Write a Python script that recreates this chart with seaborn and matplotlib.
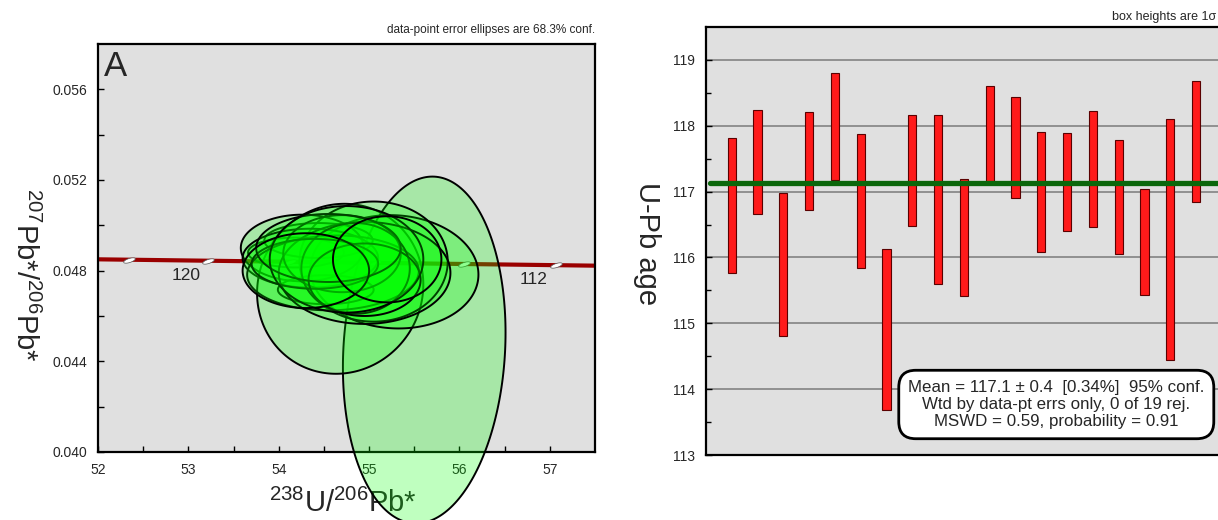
import numpy as np
import matplotlib
matplotlib.use("Agg")
import matplotlib.pyplot as plt
from matplotlib.path import Path
from matplotlib.markers import MarkerStyle
import seaborn as sns

# ---- panel A: Tera-Wasserburg data (238U/206Pb, 207Pb/206Pb, 1 sigma x, 1 sigma y, rho)
ell_x = [55.61, 54.68, 55.28, 55.05, 54.19, 54.52, 54.44, 54.26, 54.35, 54.60,
         54.95, 54.70, 54.85, 54.40, 54.95, 54.55, 54.75, 54.30, 55.20]
ell_y = [0.04450, 0.04720, 0.04795, 0.04840, 0.04880, 0.04716, 0.04933, 0.04900, 0.04855, 0.04790,
         0.04790, 0.04875, 0.04810, 0.04830, 0.04760, 0.04900, 0.04850, 0.04800, 0.04850]
ell_sx = [0.90, 0.92, 0.93, 0.82, 0.53, 0.53, 0.60, 0.68, 0.75, 0.95,
          0.95, 0.65, 0.60, 0.70, 0.62, 0.80, 0.85, 0.70, 0.60]
ell_sy = [0.00765, 0.00375, 0.00250, 0.00265, 0.00066, 0.00064, 0.00077, 0.00147, 0.00130, 0.00165,
          0.00225, 0.00170, 0.00200, 0.00110, 0.00160, 0.00150, 0.00235, 0.00165, 0.00190]
ell_rho = [0.10, 0.05, -0.05, 0.0, 0.0, 0.0, 0.0, 0.0, 0.0, 0.05,
           0.0, 0.0, 0.0, 0.0, 0.0, 0.0, 0.0, 0.0, 0.0]

concordia_x = [52.0, 57.5]
concordia_y = [0.04850, 0.04822]
age_marks = [122, 120, 118, 116, 114, 112]
age_mark_x = [52.34, 53.22, 54.12, 55.07, 56.05, 57.07]
age_mark_y = [0.04848, 0.04844, 0.04839, 0.04834, 0.04829, 0.04824]
age_labels = {120: (52.97, 0.04778), 112: (56.82, 0.04760)}

xticks_a = [52, 53, 54, 55, 56, 57]
yticks_a = [0.040, 0.044, 0.048, 0.052, 0.056]

# ---- panel B: weighted mean plot (box top / bottom, Ma)
box_top = [117.81, 118.24, 116.98, 118.21, 118.80, 117.87, 116.13, 118.16, 118.17, 117.19,
           118.61, 118.44, 117.91, 117.89, 118.22, 117.79, 117.04, 118.10, 118.68]
box_bot = [115.76, 116.66, 114.81, 116.72, 117.17, 115.84, 113.68, 116.48, 115.59, 115.42,
           117.13, 116.91, 116.09, 116.40, 116.46, 116.05, 115.43, 114.44, 116.84]
wtd_mean_line = 117.13
mean_age, mean_err, mean_pct = 117.1, 0.4, 0.34
mswd, prob, n_rej, n_tot = 0.59, 0.91, 0, 19
yticks_b = [113, 114, 115, 116, 117, 118, 119]

sns.set_theme(style="ticks")
plt.rcParams["font.family"] = ["Liberation Sans", "DejaVu Sans"]
plt.rcParams["mathtext.fontset"] = "custom"
plt.rcParams["mathtext.rm"] = "Liberation Sans"
plt.rcParams["axes.edgecolor"] = "black"

fig = plt.figure(figsize=(12.18, 5.2), dpi=100)
ax1 = fig.add_axes([0.0805, 0.1308, 0.408, 0.7846])
ax2 = fig.add_axes([0.5796, 0.125, 0.4236, 0.823])

# ---------------- panel A
ax1.set_facecolor("#e0e0e0")
sns.lineplot(x=concordia_x, y=concordia_y, ax=ax1, color="#9a0000", lw=3.0, zorder=2)

t = np.linspace(0, 2 * np.pi, 240)
for cx, cy, sx, sy, r in zip(ell_x, ell_y, ell_sx, ell_sy, ell_rho):
    ex = cx + sx * np.cos(t)
    ey = cy + sy * (r * np.cos(t) + np.sqrt(1 - r ** 2) * np.sin(t))
    ax1.fill(ex, ey, facecolor=(0.0, 1.0, 0.0, 0.25), edgecolor="black",
             lw=1.4, zorder=3, clip_on=False)

# small white age-tick ellipses on the concordia
ang = np.deg2rad(18)
tt = np.linspace(0, 2 * np.pi, 41)
vx, vy = np.cos(tt), 0.33 * np.sin(tt)
verts = np.column_stack([vx * np.cos(ang) - vy * np.sin(ang), vx * np.sin(ang) + vy * np.cos(ang)])
tick_marker = MarkerStyle(Path(verts, closed=True))
ax1.scatter(age_mark_x, age_mark_y, marker=tick_marker, s=70, facecolor="white",
            edgecolor="#555555", lw=0.5, zorder=2.5)
for age, (lx, ly) in age_labels.items():
    ax1.text(lx, ly, str(age), ha="center", va="center", fontsize=12.5, zorder=2.5)

ax1.set_xlim(52, 57.5)
ax1.set_ylim(0.040, 0.058)
ax1.set_xticks(xticks_a, [str(v) for v in xticks_a])
ax1.set_xticks(np.arange(52.5, 57.5, 1.0), minor=True)
ax1.set_yticks(yticks_a, [f"{v:.3f}" for v in yticks_a])
ax1.set_yticks(np.arange(0.042, 0.058, 0.004), minor=True)
ax1.tick_params(which="both", direction="in", width=1, color="black",
                labelsize=10, pad=8, bottom=True, left=True)
ax1.tick_params(which="major", length=4)
ax1.tick_params(which="minor", length=4)
for sp in ax1.spines.values():
    sp.set_linewidth(1.6)
    sp.set_color("black")

ax1.set_xlabel(r"$\mathregular{^{238}}$U/$\mathregular{^{206}}$Pb*", fontsize=21)
ax1.xaxis.set_label_coords(0.493, -0.09)
ax1.set_ylabel(r"$\mathregular{^{207}}$Pb*/$\mathregular{^{206}}$Pb*", fontsize=21,
               rotation=270, ha="center", va="center", rotation_mode="default")
ax1.yaxis.set_label_coords(-0.147, 0.434)
ax1.text(0.012, 0.985, "A", transform=ax1.transAxes, ha="left", va="top", fontsize=25)
ax1.text(1.0, 1.035, "data-point error ellipses are 68.3% conf.", transform=ax1.transAxes,
         ha="right", va="center", fontsize=8.5)

# ---------------- panel B
ax2.set_facecolor("#e0e0e0")
pos = np.arange(1, len(box_top) + 1)
heights = np.array(box_top) - np.array(box_bot)
ax2.bar(pos, heights, bottom=box_bot, width=0.32, color="#ff1a1a",
        edgecolor="#5a0000", lw=0.8, zorder=2)
ax2.axhline(wtd_mean_line, xmin=0.008, color="#0b670b", lw=3.8, zorder=3)

ax2.set_xlim(0, 20)
ax2.set_ylim(113, 119.5)
ax2.set_xticks([])
ax2.set_yticks(yticks_b, [str(v) for v in yticks_b])
ax2.set_yticks(np.arange(113.5, 119.5, 1.0), minor=True)
ax2.yaxis.grid(True, which="major", color="#8a8a8a", lw=1.3)
ax2.set_axisbelow(True)
ax2.tick_params(which="both", direction="in", width=1, color="black",
                labelsize=10, pad=8, left=True)
ax2.tick_params(which="major", length=4)
ax2.tick_params(which="minor", length=3.5)
for sp in ax2.spines.values():
    sp.set_linewidth(1.6)
    sp.set_color("black")

ax2.set_ylabel("U-Pb age", fontsize=21, rotation=270, ha="center", va="center",
               rotation_mode="default")
ax2.yaxis.set_label_coords(-0.114, 0.495)
ax2.text(0.99, 1.023, "box heights are 1\u03c3", transform=ax2.transAxes,
         ha="right", va="center", fontsize=9)

stats = (f"Mean = {mean_age} \u00b1 {mean_err}  [{mean_pct}%]  95% conf.\n"
         f"Wtd by data-pt errs only, {n_rej} of {n_tot} rej.\n"
         f"MSWD = {mswd}, probability = {prob}")
ax2.text(0.679, 0.118, stats, transform=ax2.transAxes, ha="center", va="center",
         multialignment="center", fontsize=12.2, linespacing=1.2, zorder=5,
         bbox=dict(boxstyle="round,pad=0.55,rounding_size=1.0", fc="white", ec="black", lw=2))

fig.savefig("out.png", dpi=100)
